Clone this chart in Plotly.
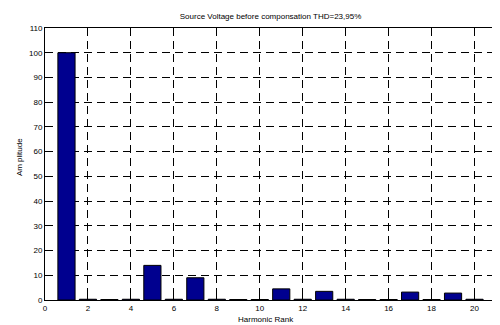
import plotly.graph_objects as go

harmonic_rank = list(range(1, 21))
amplitude = [100, 0.3, 0.2, 0.3, 14, 0.3, 9, 0.3, 0.2, 0.2,
             4.5, 0.3, 3.5, 0.3, 0.2, 0.2, 3.2, 0.2, 2.8, 0.3]
x_ticks = list(range(0, 21, 2))
y_ticks = list(range(0, 111, 10))

font_family = "Liberation Sans, Arial, sans-serif"
fsize = 8

# page body has an 8px default margin, so the figure is sized to fit the window
FIG_W, FIG_H = 492, 317

fig = go.Figure()
fig.add_trace(go.Bar(
    x=harmonic_rank, y=amplitude, width=0.8,
    marker=dict(color="#00008f", line=dict(color="black", width=1)),
))

axis_common = dict(
    showline=True, linecolor="black", linewidth=1, mirror="ticks",
    ticks="inside", ticklen=4, tickcolor="black",
    showgrid=True, gridcolor="black", griddash="8px,5px", gridwidth=1,
    zeroline=False, tickfont=dict(size=fsize, color="black", family=font_family),
)

fig.update_layout(
    width=FIG_W, height=FIG_H,
    margin=dict(l=37, r=4, t=20, b=25),
    paper_bgcolor="white", plot_bgcolor="white",
    showlegend=False,
    title=dict(text="Source Voltage before componsation THD=23,95%",
               x=0.5, xref="paper", xanchor="center",
               y=1 - 8 / FIG_H, yanchor="middle",
               font=dict(size=fsize, color="black", family=font_family)),
    xaxis=dict(range=[0, 21], tickvals=x_ticks, **axis_common),
    yaxis=dict(range=[0, 110], tickvals=y_ticks, **axis_common),
    annotations=[
        dict(text="Harmonic Rank", xref="paper", yref="paper",
             x=0.49, y=-0.07, xanchor="center", yanchor="middle",
             showarrow=False,
             font=dict(size=fsize, color="black", family=font_family)),
        dict(text="Am plitude", xref="paper", yref="paper",
             x=-0.055, y=0.526, xanchor="center", yanchor="middle",
             textangle=-90, showarrow=False,
             font=dict(size=fsize, color="black", family=font_family)),
    ],
)

fig.write_html("out.html")
